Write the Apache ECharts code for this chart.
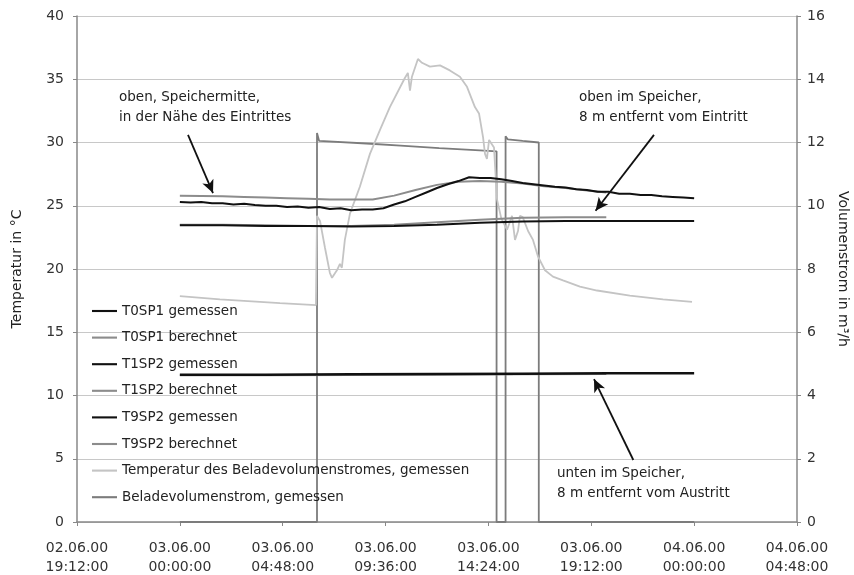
<!DOCTYPE html>
<html><head><meta charset="utf-8">
<script src="https://cdn.jsdelivr.net/npm/echarts@6/dist/echarts.min.js"></script>
<style>html,body{margin:0;padding:0;background:#fff}#c{width:854px;height:575px}</style>
</head><body><div id="c"></div>
<script>
// Time in hours after 03.06.00 00:00
const t0MeasTimes = [0,0.5,1,1.5,2,2.5,3,3.5,4,4.5,5,5.5,6,6.5,7,7.5,8,8.5,9,9.5,10,10.5,11,11.5,12,12.5,13,13.5,14,14.5,15,15.5,16,16.5,17,17.5,18,18.5,19,19.5,20,20.5,21,21.5,22,22.5,23,23.5,24];
const t0Meas = [25.3,25.25,25.3,25.2,25.2,25.1,25.15,25.05,25.0,25.0,24.9,24.95,24.85,24.9,24.75,24.8,24.65,24.7,24.7,24.8,25.1,25.35,25.7,26.05,26.4,26.7,26.95,27.25,27.2,27.2,27.1,26.95,26.8,26.7,26.6,26.5,26.45,26.3,26.25,26.1,26.1,25.95,25.95,25.85,25.85,25.75,25.7,25.65,25.6];

const t0CalcTimes = [0,1,2,3,4,5,6,7,8,9,10,11,12,13,14,15,16,17,18,19,19.9];
const t0Calc = [25.8,25.78,25.75,25.7,25.65,25.6,25.55,25.5,25.5,25.5,25.8,26.25,26.65,26.9,26.95,26.9,26.75,26.55,26.4,26.2,26.05];

const t1MeasTimes = [0,2,4,6,8,10,12,14,16,18,20,22,24];
const t1Meas = [23.45,23.45,23.4,23.4,23.35,23.4,23.5,23.65,23.75,23.8,23.8,23.8,23.8];

const t1CalcTimes = [0,2,4,6,8,10,12,14,16,18,19.9];
const t1Calc = [23.5,23.5,23.45,23.4,23.4,23.5,23.7,23.9,24.05,24.1,24.1];

const t9MeasTimes = [0,4,8,12,16,20,24];
const t9Meas = [11.65,11.65,11.68,11.7,11.72,11.75,11.75];

const t9CalcTimes = [0,4,8,12,16,19.9];
const t9Calc = [11.6,11.6,11.62,11.65,11.68,11.7];

const tInTimes = [0,1.87,4.67,6.35,6.4,6.54,6.77,7.0,7.1,7.33,7.47,7.56,7.7,7.94,8.4,8.87,9.34,9.8,10.5,10.64,10.74,10.83,11.11,11.3,11.67,12.14,12.6,13.07,13.4,13.77,13.96,14.15,14.24,14.33,14.43,14.52,14.66,14.8,15.0,15.27,15.5,15.64,15.78,15.87,16.0,16.25,16.48,16.71,17.04,17.41,17.88,18.67,19.47,21.0,22.55,23.9];
const tIn = [17.85,17.6,17.3,17.15,24.2,23.8,21.7,19.7,19.3,19.9,20.4,20.1,22.3,24.4,26.5,29.1,31.0,32.8,35.1,35.5,34.1,35.2,36.6,36.3,36.0,36.1,35.7,35.2,34.4,32.8,32.3,30.4,29.1,28.7,30.2,30.3,29.6,25.5,24.0,23.1,24.2,22.3,23.0,24.2,24.1,23.0,22.3,21.0,19.9,19.4,19.1,18.6,18.3,17.9,17.6,17.4];

const flowTimes = [0,6.4,6.4,6.5,8.9,10.3,12.1,14.0,14.78,14.78,15.2,15.2,15.3,16.0,16.75,16.75,24];
const flow = [0,0,12.3,12.05,11.96,11.9,11.82,11.75,11.72,0,0,12.2,12.1,12.05,12.0,0,0];

const leftTicks = {min:0, max:40, interval:5};
const rightTicks = {min:0, max:16, interval:2};
// x axis in minutes after 03.06.00 00:00
const xTicks = {min:-288, max:1728, interval:288};

const names = ['T0SP1 gemessen','T0SP1 berechnet','T1SP2 gemessen','T1SP2 berechnet','T9SP2 gemessen','T9SP2 berechnet','Temperatur des Beladevolumenstromes, gemessen','Beladevolumenstrom, gemessen'];

const annotations = [
  {text:'oben, Speichermitte,\nin der Nähe des Eintrittes', left:119, top:87, from:[22.8,30.6], to:[92.8,26.0]},
  {text:'oben im Speicher,\n8 m entfernt vom Eintritt', left:579, top:87, from:[1327.6,30.6], to:[1164,24.6]},
  {text:'unten im Speicher,\n8 m entfernt vom Austritt', left:557, top:463, from:[1269.7,4.9], to:[1159.6,11.3]}
];

function pairs(times, vals){ return times.map((t,i)=>[t*60, vals[i]]); }
function pad(n){ return (n<10?'0':'')+n; }
function fmtX(v){
  const m = Math.round(v);
  const day = 3 + Math.floor(m/1440);
  const mod = ((m%1440)+1440)%1440;
  return pad(day)+'.06.00\n'+pad(Math.floor(mod/60))+':'+pad(mod%60)+':00';
}

const FONT = '"DejaVu Sans", sans-serif';
const BLACK = '#111', GRAY = '#8c8c8c', LIGHT = '#c4c4c4', FLOWC = '#7c7c7c';

function lineSeries(name, data, color, width, yIdx, z){
  return {name, type:'line', data, yAxisIndex:yIdx||0, showSymbol:false, symbol:'none',
    lineStyle:{color, width}, itemStyle:{color}, z:z||2, animation:false};
}

const series = [
  lineSeries(names[7], pairs(flowTimes, flow), FLOWC, 1.8, 1, 2),
  lineSeries(names[6], pairs(tInTimes, tIn), LIGHT, 1.8, 0, 3),
  lineSeries(names[1], pairs(t0CalcTimes, t0Calc), GRAY, 2, 0, 4),
  lineSeries(names[3], pairs(t1CalcTimes, t1Calc), GRAY, 2, 0, 4),
  lineSeries(names[5], pairs(t9CalcTimes, t9Calc), GRAY, 2, 0, 4),
  lineSeries(names[0], pairs(t0MeasTimes, t0Meas), BLACK, 2, 0, 5),
  lineSeries(names[2], pairs(t1MeasTimes, t1Meas), BLACK, 2, 0, 5),
  lineSeries(names[4], pairs(t9MeasTimes, t9Meas), BLACK, 2.5, 0, 5),
  {name:'_ann', type:'line', data:[], silent:true, z:6,
    markLine:{silent:true, animation:false, symbol:['none','arrow'], symbolSize:[9,13],
      lineStyle:{color:'#111', width:1.8, type:'solid'}, label:{show:false},
      data: annotations.map(a=>[{coord:a.from},{coord:a.to}])}}
];

const legendIconPath = 'path://M0,0h26v2.2h-26z';

const option = {
  animation:false,
  backgroundColor:'#fff',
  textStyle:{fontFamily:FONT},
  grid:{left:77, right:57, top:16, bottom:53, containLabel:false, outerBoundsMode:'none'},
  legend:{
    orient:'vertical', left:87, top:299, itemWidth:25, itemHeight:14, itemGap:12.6,
    textStyle:{fontSize:13.5, color:'#222', fontFamily:FONT, lineHeight:14},
    data: names.map(n=>({name:n, icon:legendIconPath})),
    selectedMode:false
  },
  xAxis:{
    type:'value', min:xTicks.min, max:xTicks.max, interval:xTicks.interval,
    axisLine:{show:true, onZero:false, lineStyle:{color:'#888', width:1.5}},
    axisTick:{show:true, length:4, lineStyle:{color:'#888'}},
    splitLine:{show:false},
    axisLabel:{formatter:fmtX, fontSize:14, color:'#333', lineHeight:19, margin:17, fontFamily:FONT, showMinLabel:true, showMaxLabel:true}
  },
  yAxis:[
    {type:'value', min:leftTicks.min, max:leftTicks.max, interval:leftTicks.interval,
      name:'Temperatur in °C', nameLocation:'middle', nameGap:53, nameRotate:90,
      nameTextStyle:{fontSize:14, color:'#222', fontFamily:FONT},
      axisLine:{show:true, onZero:false, lineStyle:{color:'#888', width:1.5}},
      axisTick:{show:true, length:4, lineStyle:{color:'#888'}},
      splitLine:{show:true, lineStyle:{color:'#c8c8c8', width:1}},
      axisLabel:{fontSize:14, color:'#333', margin:13, fontFamily:FONT}},
    {type:'value', min:rightTicks.min, max:rightTicks.max, interval:rightTicks.interval, position:'right',
      name:'Volumenstrom in m³/h', nameLocation:'middle', nameGap:34, nameRotate:-90,
      nameTextStyle:{fontSize:14, color:'#222', fontFamily:FONT},
      axisLine:{show:true, onZero:false, lineStyle:{color:'#888', width:1.5}},
      axisTick:{show:true, length:4, lineStyle:{color:'#888'}},
      splitLine:{show:false},
      axisLabel:{fontSize:14, color:'#333', margin:10, fontFamily:FONT}}
  ],
  graphic: annotations.map(a=>({type:'text', left:a.left, top:a.top, silent:true,
    style:{text:a.text, font:'13.5px '+FONT, fill:'#222', lineHeight:20}})),
  series
};

const chart = echarts.init(document.getElementById('c'), null, {renderer:'canvas'});
chart.setOption(option);
</script></body></html>
